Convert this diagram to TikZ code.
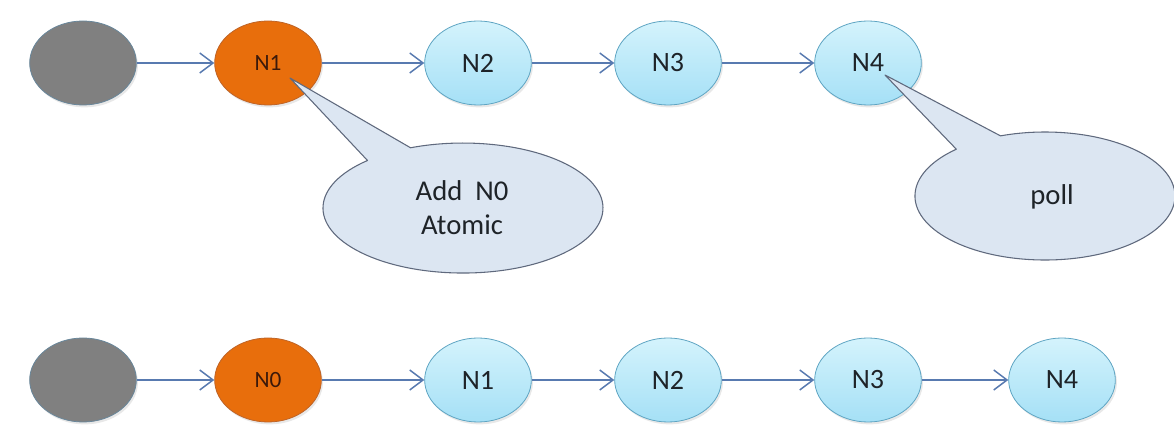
\documentclass[tikz,border=0pt]{standalone}
\usepackage{fontspec}
\setmainfont{Carlito}
\usetikzlibrary{arrows.meta,shapes.geometric,shadows}
\definecolor{arrowc}{RGB}{88,122,176}
\definecolor{grayfill}{RGB}{128,128,128}
\definecolor{grayedge}{RGB}{105,135,155}
\definecolor{orangefill}{RGB}{232,110,12}
\definecolor{orangeedge}{RGB}{190,100,40}
\definecolor{orangetext}{RGB}{60,25,10}
\definecolor{bluetop}{RGB}{212,243,252}
\definecolor{bluebot}{RGB}{165,224,246}
\definecolor{blueedge}{RGB}{95,165,195}
\definecolor{callfill}{RGB}{220,230,242}
\definecolor{calledge}{RGB}{95,105,125}
\definecolor{textc}{RGB}{30,35,40}
\begin{document}
\begin{tikzpicture}[x=0.75pt,y=0.75pt,
 base/.style={ellipse, minimum width=80pt, minimum height=63pt, inner sep=0pt, line width=0.6pt,
   drop shadow={opacity=0.18,shadow xshift=1.2pt,shadow yshift=-1.8pt}},
 graynode/.style={base, fill=grayfill, draw=grayedge},
 orangenode/.style={base, fill=orangefill, draw=orangeedge, font=\fontsize{17.5}{20}\selectfont, text=orangetext},
 bluenode/.style={base, top color=bluetop, bottom color=bluebot, draw=blueedge, font=\fontsize{21}{24}\selectfont, text=textc},
 link/.style={draw=arrowc, line width=1.1pt, -{Straight Barb[length=10pt,width=15pt,line width=1.1pt]}},
 callout/.style={fill=callfill, draw=calledge, line width=0.8pt, line join=round},
 calltext/.style={font=\fontsize{21.5}{25.5}\selectfont, text=textc, align=center}
]
\useasboundingbox (0,0) rectangle (1174,435);
% top row
\node[graynode]   (g1) at (83,372) {};
\node[orangenode] (a1) at (268,372) {N1};
\node[bluenode]   (a2) at (478,372) {N2};
\node[bluenode]   (a3) at (668,372) {N3};
\node[bluenode]   (a4) at (868,372) {N4};
\draw[link] (g1) -- (a1);
\draw[link] (a1) -- (a2);
\draw[link] (a2) -- (a3);
\draw[link] (a3) -- (a4);
% bottom row
\node[graynode]   (g2) at (83,55) {};
\node[orangenode] (b0) at (268,55) {N0};
\node[bluenode]   (b1) at (478,55) {N1};
\node[bluenode]   (b2) at (668,55) {N2};
\node[bluenode]   (b3) at (868,55) {N3};
\node[bluenode]   (b4) at (1062,55) {N4};
\draw[link] (g2) -- (b0);
\draw[link] (b0) -- (b1);
\draw[link] (b1) -- (b2);
\draw[link] (b2) -- (b3);
\draw[link] (b3) -- (b4);
% callouts
\path[callout] (290,357) -- (367.5,274.5) arc[start angle=133, end angle=472, x radius=140, y radius=65] -- cycle;
\node[calltext] (t1) at (462,227) {Add~ N0\\Atomic};
\path[callout] (885,360) -- (956.3,285.8) arc[start angle=133, end angle=470, x radius=130, y radius=64] -- cycle;
\node[calltext] (t2) at (1052,238) {poll};
\end{tikzpicture}
\end{document}
